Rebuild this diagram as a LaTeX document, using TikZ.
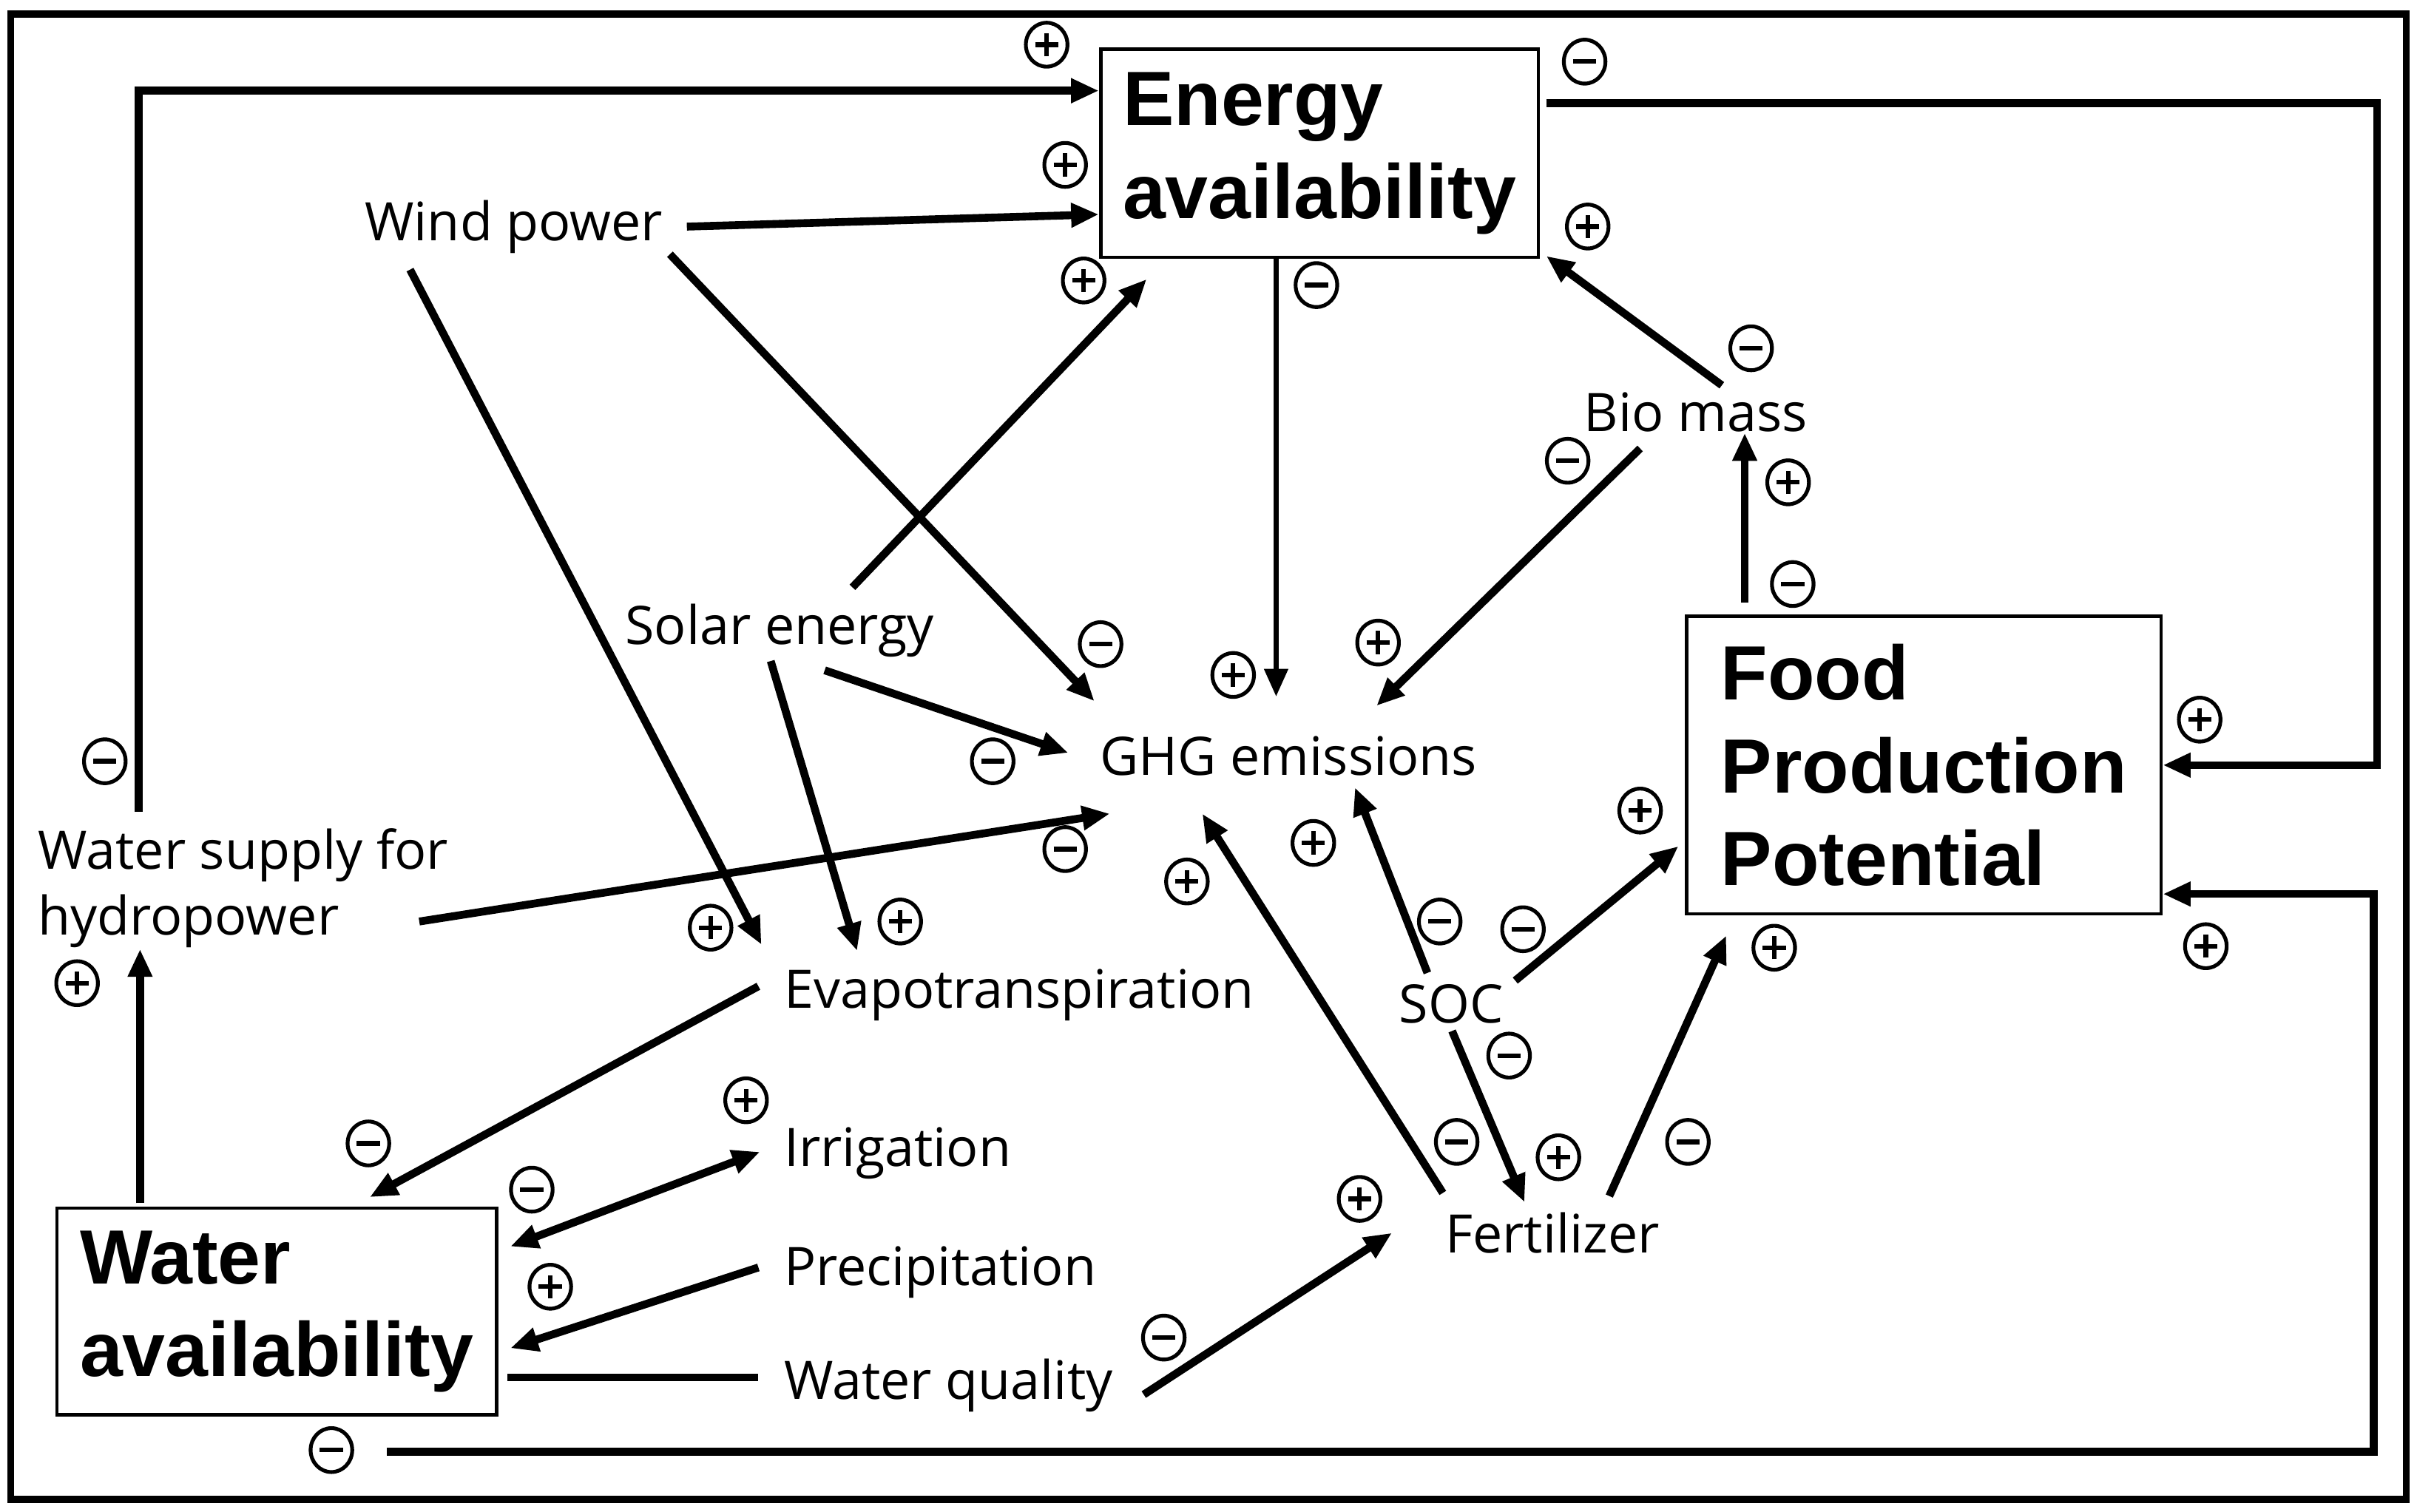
\documentclass[tikz,border=0pt]{standalone}
\usepackage{fontspec}
\setmainfont{Open Sans}
\newfontfamily\headfont{Liberation Sans}
\usepackage{tikz}
\usetikzlibrary{arrows.meta,shapes.geometric}
\tikzset{
  lbl/.style      ={anchor=base west,inner sep=0pt,align=left,
                    font=\fontsize{9.8}{12.2}\selectfont},
  sector/.style   ={draw,line width=0.65pt,align=left,inner sep=0pt,
                    font=\headfont\bfseries\fontsize{14.2}{17.1}\selectfont},
  flow/.style     ={-{Triangle[length=1.8mm,width=1.5mm]},line width=1.45pt},
  biflow/.style   ={{Triangle[length=1.8mm,width=1.5mm]}-{Triangle[length=1.8mm,width=1.5mm]},line width=1.45pt},
  link/.style     ={line width=1.45pt},
  sgn/.style      ={draw,ellipse,line width=0.7pt,minimum width=2.7mm,
                    minimum height=2.85mm,inner sep=0pt},
  plussign/.style ={sgn,path picture={\draw[line width=0.85pt]
                    (path picture bounding box.center) +(-0.075,0) -- +(0.075,0)
                    (path picture bounding box.center) +(0,-0.075) -- +(0,0.075);}},
  minussign/.style={sgn,path picture={\draw[line width=0.85pt]
                    (path picture bounding box.center) +(-0.075,0) -- +(0.075,0);}}
}
\begin{document}
\begin{tikzpicture}
  \useasboundingbox (0,0) rectangle (15.68,-9.81);
  \node[draw,line width=1.3pt,minimum width=15.54cm,minimum height=9.64cm,inner sep=0pt] (frame) at (7.84,-4.91) {};

  \node[sector,minimum width=2.84cm,minimum height=1.35cm] (energy) at (8.56,-0.995) {Energy\\availability};
  \node[sector,minimum width=3.08cm,minimum height=1.93cm] (food) at (12.48,-4.965) {Food\\Production\\Potential};
  \node[sector,minimum width=2.85cm,minimum height=1.34cm] (water) at (1.795,-8.51) {Water\\availability};

  \node[lbl] (wind) at (2.36,-1.56) {Wind power};
  \node[lbl] (solar) at (4.05,-4.18) {Solar energy};
  \node[lbl] (ghg) at (7.13,-5.03) {GHG emissions};
  \node[lbl] (bio) at (10.27,-2.80) {Bio mass};
  \node[lbl,anchor=north west] (hydro) at (0.24,-5.37) {Water supply for\\hydropower};
  \node[lbl] (evap) at (5.08,-6.54) {Evapotranspiration};
  \node[lbl] (soc) at (9.07,-6.64) {SOC};
  \node[lbl] (irr) at (5.08,-7.57) {Irrigation};
  \node[lbl] (prec) at (5.08,-8.34) {Precipitation};
  \node[lbl] (wq) at (5.08,-9.08) {Water quality};
  \node[lbl] (fert) at (9.37,-8.13) {Fertilizer};

  % outer loops
  \draw[flow] ([shift={(0.66,0.10)}]hydro.north west) |- ([yshift=-2.8mm]energy.north west);
  \draw[flow] ([shift={(0.04,-0.36)}]energy.north east) -- ++(5.39,0) |- (food.east);
  \draw[flow] ([shift={(2.15,-0.23)}]water.south west) -- ++(12.89,0) |- ([yshift=1.4mm]food.south east);

  % energy side
  \draw[flow] ([xshift=1.5mm]wind.east) -- ([yshift=2.9mm]energy.south west);
  \draw[flow] ([shift={(1.48,0.10)}]solar.north west) -- ([shift={(0.31,-0.13)}]energy.south west);
  \draw[flow] ([shift={(0.90,0.04)}]bio.north west) -- ([shift={(0.04,0.02)}]energy.south east);
  \coordinate (e1) at ([xshift=11.5mm]energy.south west);
  \draw[flow,line width=0.95pt,shorten >=2.5mm] (e1) -- (e1 |- ghg.north);
  \coordinate (f1) at ([shift={(0.39,0.08)}]food.north west);
  \draw[flow] (f1) -- (f1 |- bio.south);

  % into GHG emissions
  \draw[flow] ([xshift=0.4mm]wind.south east) -- ([shift={(-0.03,0.22)}]ghg.north west);
  \draw[flow] ([shift={(0.37,-0.10)}]bio.south west) -- ([shift={(1.80,0.19)}]ghg.north west);
  \draw[flow] ([shift={(1.30,-0.08)}]solar.south west) -- ([shift={(-0.20,0.02)}]ghg.west);
  \draw[flow] ([shift={(2.48,-0.61)}]hydro.north west) -- ([shift={(0.07,-0.24)}]ghg.south west);
  \draw[flow] ([shift={(-0.01,0.12)}]fert.north west) -- ([shift={(0.67,-0.24)}]ghg.south west);
  \draw[flow] ([shift={(0.19,0.07)}]soc.north west) -- ([shift={(1.66,-0.07)}]ghg.south west);

  % water side
  \draw[flow] ([shift={(0.30,-0.10)}]wind.south west) -- ([shift={(-0.14,0.15)}]evap.north west);
  \draw[flow] ([shift={(0.95,-0.02)}]solar.south west) -- ([shift={(0.48,0.11)}]evap.north west);
  \draw[flow] ([shift={(-0.16,-0.12)}]evap.north west) -- ([shift={(2.04,0.06)}]water.north west);
  \draw[biflow] ([shift={(-0.15,0.01)}]irr.west) -- ([shift={(0.08,-0.26)}]water.north east);
  \draw[flow] ([shift={(-0.16,0.03)}]prec.west) -- ([shift={(0.08,-0.92)}]water.north east);
  \coordinate (w2) at ([shift={(0.06,-1.11)}]water.north east);
  \draw[link,shorten >=1.6mm] (w2) -- (w2 -| wq.west);
  \coordinate (w0) at ([shift={(0.55,0.02)}]water.north west);
  \draw[flow] (w0) -- (w0 |- hydro.south);

  % food side
  \draw[flow] ([shift={(2.34,0.12)}]wq.south west) -- ([xshift=-3.4mm]fert.west);
  \draw[flow] ([shift={(0.76,0.02)}]soc.north west) -- ([shift={(-0.04,0.45)}]food.south west);
  \draw[flow] ([shift={(0.35,-0.04)}]soc.south west) -- ([shift={(0.52,0.06)}]fert.north west);
  \draw[flow] ([shift={(1.07,0.10)}]fert.north west) -- ([shift={(0.27,-0.13)}]food.south west);

  % polarity signs
  \foreach \p [count=\i] in {(6.79,-0.29),(6.91,-1.07),(7.03,-1.82),(10.30,-1.47),(11.60,-3.13),
      (8.94,-4.17),(8.00,-4.38),(14.27,-4.67),(10.64,-5.26),(8.52,-5.47),(7.70,-5.72),
      (4.61,-6.02),(5.84,-5.98),(0.50,-6.38),(4.84,-7.14),(3.57,-8.35),(8.82,-7.78),
      (10.11,-7.51),(11.51,-6.15),(14.31,-6.14)}
    \node[plussign] (pl\i) at \p {};
  \foreach \p [count=\i] in {(10.28,-0.40),(8.54,-1.85),(11.36,-2.26),(10.17,-2.99),(11.63,-3.79),
      (7.14,-4.18),(6.44,-4.94),(6.91,-5.51),(0.68,-4.94),(2.39,-7.42),(3.45,-7.72),
      (7.55,-8.68),(9.34,-5.98),(9.88,-6.03),(9.79,-6.85),(9.45,-7.41),(10.95,-7.41),(2.15,-9.41)}
    \node[minussign] (mi\i) at \p {};
\end{tikzpicture}
\end{document}
